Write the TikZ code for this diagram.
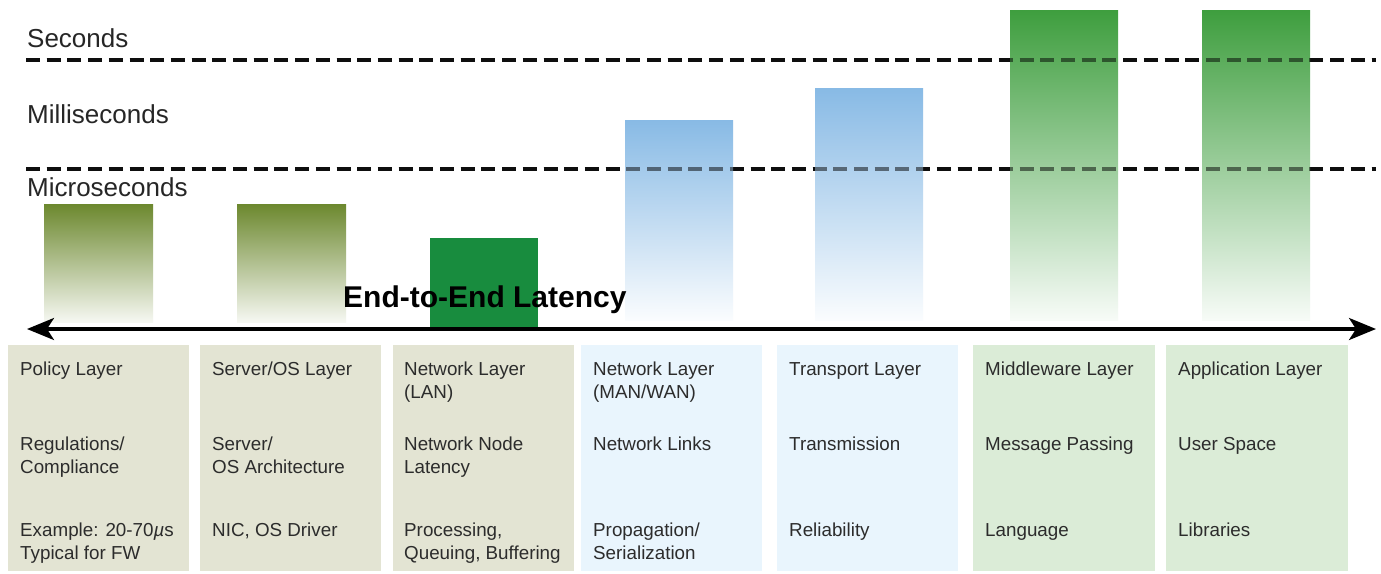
\documentclass[tikz,border=0pt]{standalone}
\usepackage{fontspec}
\setmainfont{Liberation Sans}
\usetikzlibrary{arrows.meta}
\definecolor{boxolive}{RGB}{227,228,211}
\definecolor{boxblue}{RGB}{233,245,253}
\definecolor{boxgreen}{RGB}{219,236,215}
\definecolor{barolive}{RGB}{108,136,46}
\definecolor{barblue}{RGB}{136,186,229}
\definecolor{bargreen}{RGB}{62,158,62}
\definecolor{lanbar}{RGB}{24,140,62}
\definecolor{txtgray}{RGB}{44,44,44}
\definecolor{dashgray}{RGB}{30,30,30}
\newcommand\mlines[1]{\begin{tabular}[t]{@{}l@{}}#1\end{tabular}}
\tikzset{
  celltext/.style={anchor=base west, inner sep=0pt, text=txtgray,
    font=\fontsize{18.8}{23.5}\selectfont},
  scalelabel/.style={anchor=base west, inner sep=0pt, text=black!85,
    font=\fontsize{26}{30}\selectfont},
  dashline/.style={draw=dashgray, line width=3.2pt, dash pattern=on 14pt off 6.7pt},
  oliveshade/.style={top color=barolive, bottom color=barolive!6!white},
  blueshade/.style={top color=barblue, bottom color=barblue!4!white},
  greenshade/.style={top color=bargreen, bottom color=bargreen!4!white},
  latarrow/.style={line width=3.4pt, draw=black,
    {Stealth[length=27pt,width=22pt,inset=7pt]}-{Stealth[length=27pt,width=22pt,inset=7pt]}}
}
\begin{document}
\begin{tikzpicture}[x=1pt,y=-1pt]
\useasboundingbox (0,0) rectangle (1381,573);
\fill[white] (0,0) rectangle (1381,573);

% layer boxes
\fill[boxolive] (8,345) rectangle (189,571);
\fill[boxolive] (200,345) rectangle (381,571);
\fill[boxolive] (393,345) rectangle (574,571);
\fill[boxblue]  (581,345) rectangle (762,571);
\fill[boxblue]  (777,345) rectangle (958,571);
\fill[boxgreen] (973,345) rectangle (1155,571);
\fill[boxgreen] (1166,345) rectangle (1348,571);

% dashed time-scale lines
\coordinate (s1) at (26,60);   \coordinate (s2) at (1376,60);
\coordinate (m1) at (26,169);  \coordinate (m2) at (1376,169);
\draw[dashline] (s1) -- (s2);
\draw[dashline] (m1) -- (m2);

% latency bars
\shade[oliveshade] (44,204) rectangle (153,322);
\shade[oliveshade] (237,204) rectangle (346,322);
\shade[blueshade]  (625,120) rectangle (733,320);
\shade[blueshade]  (815,88)  rectangle (923,320);
\shade[greenshade] (1010,10) rectangle (1118,320);
\shade[greenshade] (1202,10) rectangle (1310,320);

% dashes seen through the bars
\draw[dashline, draw opacity=0.5, draw=black] (s1) -- (s2);
\draw[dashline, draw opacity=0.5, draw=black] (m1) -- (m2);

\fill[lanbar] (430,238) rectangle (538,330);

% scale labels
\node[scalelabel] (sec) at (27,47.5) {Seconds};
\node[scalelabel] (msec) at (27,123) {Milliseconds};
\node[scalelabel] (usec) at (27,196) {Microseconds};

% end-to-end latency
\node[anchor=base west, inner sep=0pt, font=\bfseries\fontsize{30}{32}\selectfont] (e2e) at (343,307) {End-to-End Latency};
\coordinate (la) at (27,329);
\coordinate (ra) at (1376,329);
\draw[latarrow] (la) -- (ra);

% cell texts
\node[celltext] (c11) at (20,375)  {Policy Layer};
\node[celltext] (c12) at (20,450)  {\mlines{Regulations/\\Compliance}};
\node[celltext] (c13) at (20,536)  {\mlines{Example: 20-70{\itshape µ}s\\Typical for FW}};

\node[celltext] (c21) at (212,375) {Server/OS Layer};
\node[celltext] (c22) at (212,450) {\mlines{Server/\\OS Architecture}};
\node[celltext] (c23) at (212,536) {NIC, OS Driver};

\node[celltext] (c31) at (404,375) {\mlines{Network Layer\\(LAN)}};
\node[celltext] (c32) at (404,450) {\mlines{Network Node\\Latency}};
\node[celltext] (c33) at (404,536) {\mlines{Processing,\\Queuing, Buffering}};

\node[celltext] (c41) at (593,375) {\mlines{Network Layer\\(MAN/WAN)}};
\node[celltext] (c42) at (593,450) {Network Links};
\node[celltext] (c43) at (593,536) {\mlines{Propagation/\\Serialization}};

\node[celltext] (c51) at (789,375) {Transport Layer};
\node[celltext] (c52) at (789,450) {Transmission};
\node[celltext] (c53) at (789,536) {Reliability};

\node[celltext] (c61) at (985,375)  {Middleware Layer};
\node[celltext] (c62) at (985,450)  {Message Passing};
\node[celltext] (c63) at (985,536)  {Language};

\node[celltext] (c71) at (1178,375) {Application Layer};
\node[celltext] (c72) at (1178,450) {User Space};
\node[celltext] (c73) at (1178,536) {Libraries};
\end{tikzpicture}
\end{document}
